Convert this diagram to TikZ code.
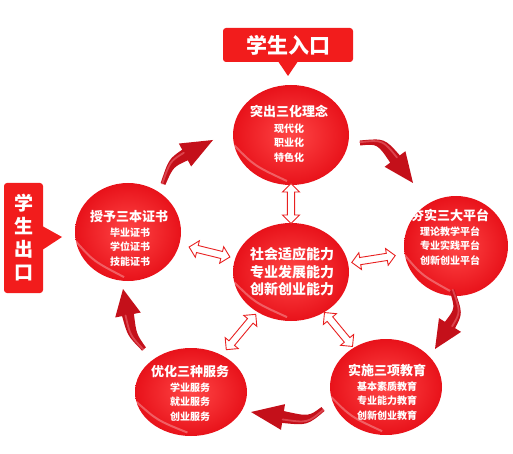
\documentclass[tikz,border=0pt]{standalone}
\usepackage{fontspec}
\newfontfamily\cjk{Noto Sans CJK SC}
\usetikzlibrary{calc,shapes.geometric,shapes.arrows,arrows.meta}
\definecolor{ballin}{HTML}{FF4646}
\definecolor{ballout}{HTML}{E8121A}
\definecolor{boxred}{HTML}{F21C1C}
\definecolor{arrred}{HTML}{C4101A}
\definecolor{arrlight}{HTML}{F07078}
\definecolor{dblred}{HTML}{E82020}
\newcommand\dblarrow[3]{%
  \path let \p1=($(#2)-(#1)$), \n1={atan2(\y1,\x1)} in
    node[dbl, minimum height=#3, rotate=\n1] at ($(#1)!0.5!(#2)$) {};}
% #1 tail, #2 control, #3 head base, #4 tip
\newcommand\cyclearrow[4]{%
  \fill[arrred] ($(#1)!2.5pt!90:(#2)$) .. controls ($(#2)!4.5pt!90:(#3)$) .. ($(#3)!6pt!90:(#4)$)
    -- ($(#3)!13pt!90:(#4)$) -- (#4) -- ($(#3)!13pt!-90:(#4)$)
    -- ($(#3)!6pt!-90:(#4)$) .. controls ($(#2)!4.5pt!-90:(#3)$) .. ($(#1)!2.5pt!-90:(#2)$) -- cycle;
  \draw[arrlight, opacity=0.55, line width=1.8pt, line cap=round]
    ($(#1)!0.8pt!90:(#2)$) .. controls ($(#2)!2pt!90:(#3)$) .. ($(#3)!2.5pt!90:(#4)$);}
\tikzset{
  ball/.style={ellipse, inner sep=0pt, shade, inner color=ballin, outer color=ballout, draw=none},
  ttl/.style={text=white, font=\cjk\bfseries\fontsize{13}{15}\selectfont, inner sep=0pt},
  sub/.style={text=white, font=\cjk\bfseries\fontsize{10}{14.5}\selectfont, align=center, inner sep=0pt},
  mid/.style={text=white, font=\cjk\bfseries\fontsize{14}{17.5}\selectfont, align=center, inner sep=0pt},
  dbl/.style={double arrow, draw=dblred, fill=white, line width=0.9pt, minimum width=17pt,
    double arrow head extend=4pt, double arrow head indent=0pt, inner sep=2.5pt},
  callout/.style={fill=boxred, rounded corners=3pt},
  glow/.style={draw=white, opacity=0.3, line width=2pt},
}
\begin{document}
\begin{tikzpicture}[x=1pt,y=-1pt]
\useasboundingbox (0,0) rectangle (513,454);

% ellipses
\node[ball, minimum width=116pt, minimum height=100pt] (top) at (291,135) {};
\node[ball, minimum width=106pt, minimum height=98pt] (lft) at (128,232) {};
\node[ball, minimum width=104pt, minimum height=100pt] (rgt) at (456,246) {};
\node[ball, minimum width=116pt, minimum height=98pt] (ctr) at (291,272) {};
\node[ball, minimum width=112pt, minimum height=88pt] (bl) at (191,392) {};
\node[ball, minimum width=112pt, minimum height=96pt] (br) at (386,387) {};
\foreach \n in {top,lft,rgt,ctr,bl,br}{
  \draw[glow] (\n.190) .. controls ($(\n.220)!0.12!(\n.center)$) .. ($(\n.265)!0.08!(\n.center)$);
}

% texts
\node[ttl] (toptitle) at (289,111) {突出三化理念};
\node[sub] (toptext) at (289,143) {现代化\\职业化\\特色化};
\node[ttl] (lfttitle) at (129,217) {授予三本证书};
\node[sub] (lfttext) at (130,247) {毕业证书\\学位证书\\技能证书};
\node[ttl] (rgttitle) at (450,215) {夯实三大平台};
\node[sub] (rgttext) at (450,246) {理论教学平台\\专业实践平台\\创新创业平台};
\node[mid] (ctrtext) at (292,272) {社会适应能力\\专业发展能力\\创新创业能力};
\node[ttl] (bltitle) at (190,372) {优化三种服务};
\node[sub] (bltext) at (190,402) {学业服务\\就业服务\\创业服务};
\node[ttl] (brtitle) at (387,370) {实施三项教育};
\node[sub] (brtext) at (387,401) {基本素质教育\\专业能力教育\\创新创业教育};

% double arrows
\dblarrow{top}{ctr}{40pt}
\dblarrow{lft}{ctr}{42pt}
\dblarrow{rgt}{ctr}{44pt}
\dblarrow{ctr}{bl}{46pt}
\dblarrow{ctr}{br}{44pt}

% curved cycle arrows
\coordinate (a1t) at (163,184); \coordinate (a1c) at (171,163); \coordinate (a1b) at (185,155); \coordinate (a1e) at (213,140);
\coordinate (a2t) at (360,143); \coordinate (a2c) at (381,141); \coordinate (a2b) at (395,159); \coordinate (a2e) at (413,183);
\coordinate (a3t) at (452,290); \coordinate (a3c) at (459,311); \coordinate (a3b) at (450,325); \coordinate (a3e) at (435,349);
\coordinate (a4t) at (323,409); \coordinate (a4c) at (308,421); \coordinate (a4b) at (283,417); \coordinate (a4e) at (251,412);
\coordinate (a5t) at (144,349); \coordinate (a5c) at (132,335); \coordinate (a5b) at (128,315); \coordinate (a5e) at (123,289);
\cyclearrow{a1t}{a1c}{a1b}{a1e}
\cyclearrow{a2t}{a2c}{a2b}{a2e}
\cyclearrow{a3t}{a3c}{a3b}{a3e}
\cyclearrow{a4t}{a4c}{a4b}{a4e}
\cyclearrow{a5t}{a5c}{a5b}{a5e}

% callouts
\node[callout, minimum width=130pt, minimum height=34pt, inner sep=0pt,
  text=white, font=\cjk\bfseries\fontsize{21}{24}\selectfont] (in) at (288,45) {学生入口};
\fill[boxred] ($(in.south)+(-10,-1)$) -- (288,76) -- ($(in.south)+(10,-1)$) -- cycle;
\node[callout, minimum width=39pt, minimum height=110pt, inner sep=0pt, align=center,
  text=white, font=\cjk\bfseries\fontsize{19}{23}\selectfont] (out) at (23.5,238) {学\\生\\出\\口};
\fill[boxred] ($(out.east)+(-1,-12)$) -- (62,237) -- ($(out.east)+(-1,12)$) -- cycle;
\end{tikzpicture}
\end{document}
